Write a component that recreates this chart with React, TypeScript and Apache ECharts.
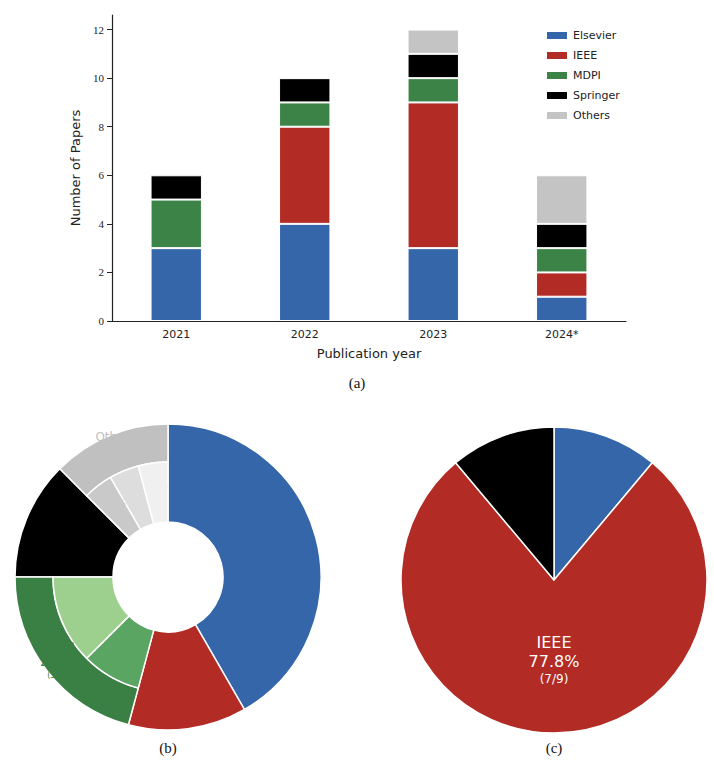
import React, { useRef, useEffect } from 'react';
import * as echarts from 'echarts';

const SANS = 'DejaVu Sans, sans-serif';
const SERIF = 'Liberation Serif, serif';

// ─── Data ─────────────────────────────────────────────────────────────────────
const YEARS = ['2021', '2022', '2023', '2024*'];
const PUBLISHERS = ['Elsevier', 'IEEE', 'MDPI', 'Springer', 'Others'];
const ELSEVIER = [3, 4, 3, 1];
const IEEE = [0, 4, 6, 1];
const MDPI = [2, 1, 1, 1];
const SPRINGER = [1, 1, 1, 1];
const OTHERS = [0, 0, 1, 2];
const BAR_VALUES = [ELSEVIER, IEEE, MDPI, SPRINGER, OTHERS];

// donut (b): publisher totals and quartile split
const DONUT_TOTAL = [10, 3, 5, 3, 3];
const MDPI_Q = [{ q: 'Q1', v: 2 }, { q: 'Q2', v: 3 }];
const OTHERS_Q = [{ q: 'Q1', v: 1 }, { q: 'Q2', v: 1 }, { q: 'Q3', v: 1 }];

// pie (c): conference papers
const PIE_NAMES = ['Elsevier', 'IEEE', 'Springer'];
const PIE_VALUES = [1, 7, 1];

const COLORS: Record<string, string> = {
  Elsevier: '#3466A9',
  IEEE: '#B22B25',
  MDPI: '#3B8346',
  Springer: '#000000',
  Others: '#C4C4C4',
};
const MDPI_Q_COLORS = ['#5AA562', '#9DCF8E'];
const OTHERS_Q_COLORS = ['#C9C9C9', '#DDDDDD', '#F0F0F0'];

const N = 24;
const pct = (v: number, n: number) => ((v / n) * 100).toFixed(1) + '%';
const HIDE = { color: 'transparent', borderWidth: 0 };

function getOption(): echarts.EChartsCoreOption {
  const CB = [168, 577];
  const CC = [554, 580];
  const border = { borderColor: '#fff', borderWidth: 1.5 };

  // full-height segments (Elsevier / IEEE / Springer)
  const fullData = PUBLISHERS.map((p, i) => {
    const split = p === 'MDPI' || p === 'Others';
    return {
      name: p,
      value: DONUT_TOTAL[i],
      itemStyle: split ? HIDE : { color: COLORS[p], ...border },
      label: split
        ? { show: false }
        : {
            show: true,
            formatter: `{a|${p}, Q1}\n{a|${pct(DONUT_TOTAL[i], N)}}\n{b|(${DONUT_TOTAL[i]}/${N})}`,
          },
    };
  });
  // outer ring for split publishers
  const outerData = PUBLISHERS.map((p, i) => {
    const split = p === 'MDPI' || p === 'Others';
    const txt = p === 'Others' ? '#111' : '#fff';
    return {
      name: p,
      value: DONUT_TOTAL[i],
      itemStyle: split ? { color: p === 'MDPI' ? '#3A7F44' : '#C0C0C0', ...border } : HIDE,
      label: split
        ? {
            show: true,
            color: txt,
            formatter: `{a|${p}}\n{a|${pct(DONUT_TOTAL[i], N)}}\n{b|(${DONUT_TOTAL[i]}/${N})}`,
          }
        : { show: false },
    };
  });
  // inner ring: quartile split
  const innerData: any[] = [];
  PUBLISHERS.forEach((p, i) => {
    if (p === 'MDPI' || p === 'Others') {
      const qs = p === 'MDPI' ? MDPI_Q : OTHERS_Q;
      const cs = p === 'MDPI' ? MDPI_Q_COLORS : OTHERS_Q_COLORS;
      qs.forEach((q, k) => {
        const dark = p === 'MDPI' && k === 0;
        innerData.push({
          name: `${p} ${q.q}`,
          value: q.v,
          itemStyle: { color: cs[k], ...border },
          label: {
            show: true,
            color: dark ? '#fff' : '#111',
            formatter: `{s|${pct(q.v, N)}}\n{t|(${q.v}/${N})}`,
          },
        });
      });
    } else {
      innerData.push({ name: p, value: DONUT_TOTAL[i], itemStyle: HIDE, label: { show: false } });
    }
  });

  const rich = {
    a: { fontFamily: SANS, fontSize: 12, lineHeight: 15, color: 'inherit' },
    b: { fontFamily: SANS, fontSize: 8, lineHeight: 11, color: 'inherit' },
    s: { fontFamily: SANS, fontSize: 9, lineHeight: 10, color: 'inherit' },
    t: { fontFamily: SANS, fontSize: 6, lineHeight: 8, color: 'inherit' },
  };

  const pieData = PIE_NAMES.map((p, i) => {
    const big = p === 'IEEE';
    return {
      name: p,
      value: PIE_VALUES[i],
      itemStyle: { color: COLORS[p], ...border },
      label: {
        show: true,
        position: big ? 'inside' : 'inside',
        formatter: big
          ? `{A|${p}}\n{A|${pct(PIE_VALUES[i], 9)}}\n{B|(${PIE_VALUES[i]}/9)}`
          : `{a|${p}}\n{a|${pct(PIE_VALUES[i], 9)}}\n{b|(${PIE_VALUES[i]}/9)}`,
      },
    };
  });

  const qTag = (text: string, x: number, y: number, color = '#111') => ({
    type: 'text', x, y, style: { text, fill: color, font: `10px ${SANS}` },
  });
  const caption = (text: string, x: number, y: number) => ({
    type: 'text', x, y, style: { text, fill: '#111', font: `15px ${SERIF}`, textAlign: 'center' },
  });

  return {
    animation: false,
    backgroundColor: '#fff',
    grid: { left: 112, right: 88, top: 15, bottom: 449 },
    legend: {
      data: PUBLISHERS,
      orient: 'vertical',
      left: 540,
      top: 25,
      itemWidth: 22,
      itemHeight: 9,
      itemGap: 9,
      icon: 'rect',
      textStyle: { fontFamily: SANS, fontSize: 11, color: '#222' },
    },
    xAxis: {
      type: 'category',
      data: YEARS,
      axisLine: { lineStyle: { color: '#222', width: 1.2 } },
      axisTick: { alignWithLabel: true, lineStyle: { color: '#222' } },
      axisLabel: { fontFamily: SANS, fontSize: 11, color: '#222' },
      name: 'Publication year',
      nameLocation: 'middle',
      nameGap: 26,
      nameTextStyle: { fontFamily: SANS, fontSize: 13, color: '#222' },
    },
    yAxis: {
      type: 'value',
      min: 0,
      max: 12.6,
      interval: 2,
      splitLine: { show: false },
      axisLine: { show: true, lineStyle: { color: '#222', width: 1.2 } },
      axisTick: { show: true, lineStyle: { color: '#222' } },
      axisLabel: { fontFamily: SERIF, fontSize: 11, color: '#222', showMaxLabel: false },
      name: 'Number of Papers',
      nameLocation: 'middle',
      nameGap: 24,
      nameTextStyle: { fontFamily: SANS, fontSize: 13, color: '#222' },
    },
    series: [
      ...PUBLISHERS.map((p, i) => ({
        name: p,
        type: 'bar',
        stack: 'total',
        barWidth: '40%',
        data: BAR_VALUES[i].map(v => (v === 0 ? null : v)),
        itemStyle: { color: COLORS[p], borderColor: '#fff', borderWidth: 1 },
      })),
      {
        type: 'pie', center: CB, radius: [55, 153], startAngle: 90, clockwise: true,
        label: { position: 'inside', color: '#fff', rich }, labelLine: { show: false },
        emphasis: { disabled: true }, data: fullData,
      },
      {
        type: 'pie', center: CB, radius: [115, 153], startAngle: 90,
        label: { position: 'inside', rich }, labelLine: { show: false },
        emphasis: { disabled: true }, data: outerData,
      },
      {
        type: 'pie', center: CB, radius: [55, 115], startAngle: 90,
        label: { position: 'inside', rich }, labelLine: { show: false },
        emphasis: { disabled: true }, data: innerData,
      },
      {
        type: 'pie', center: CC, radius: [0, 153], startAngle: 90,
        label: {
          position: 'inside', color: '#fff',
          rich: { ...rich, A: { fontFamily: SANS, fontSize: 16, lineHeight: 19, color: '#fff' }, B: { fontFamily: SANS, fontSize: 12, lineHeight: 15, color: '#fff' } },
        },
        labelLine: { show: false }, emphasis: { disabled: true }, data: pieData,
      },
    ],
    graphic: [
      caption('(a)', 357, 375),
      caption('(b)', 168, 740),
      caption('(c)', 554, 740),
      qTag('Q1', 91, 494),
      qTag('Q2', 116, 480),
      qTag('Q3', 143, 467),
      qTag('Q2', 58, 583),
      qTag('Q1', 91, 659),
    ],
  };
}

function Chart() {
  const ref = useRef<HTMLDivElement>(null);
  useEffect(() => {
    if (!ref.current) return;
    const chart = echarts.init(ref.current, undefined, { renderer: 'svg' });
    chart.setOption(getOption());
    return () => chart.dispose();
  }, []);
  return <div ref={ref} style={{ width: 714, height: 770 }} />;
}

export default function App() {
  return (
    <div style={{ position: 'absolute', left: 0, top: 0, width: 714, height: 770, background: '#fff' }}>
      <Chart />
    </div>
  );
}
